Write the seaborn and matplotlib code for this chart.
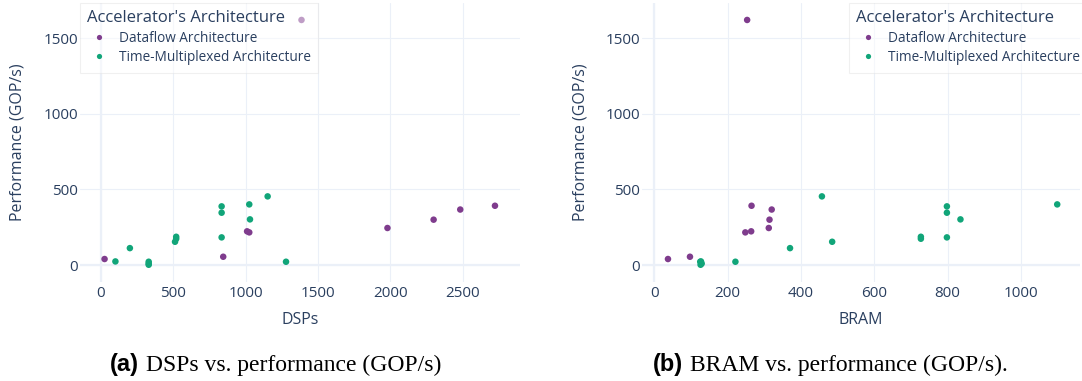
import matplotlib
matplotlib.use('Agg')
import matplotlib.pyplot as plt
from matplotlib.offsetbox import TextArea, HPacker, AnnotationBbox
import pandas as pd
import seaborn as sns

architecture = ['Dataflow Architecture'] * 9 + ['Time-Multiplexed Architecture'] * 15
dsps = [25, 845, 1010, 1025, 1980, 2299, 2483, 2723, 1386,
        100, 200, 330, 330, 330, 520, 520, 512, 834, 834, 834, 1025, 1030, 1152, 1279]
bram = [37, 97, 264, 248, 312, 314, 320, 265, 253,
        127, 370, 125, 129, 126, 727, 727, 485, 798, 798, 798, 1099, 835, 457, 221]
performance = [40, 55, 223, 216, 245, 300, 367, 392, 1620,
               24, 112, 22, 10, 2, 187, 174, 154, 388, 346, 183, 401, 302, 454, 22]

dsp_ticks = [0, 500, 1000, 1500, 2000, 2500]
bram_ticks = [0, 200, 400, 600, 800, 1000]
perf_ticks = [0, 500, 1000, 1500]

df = pd.DataFrame({'DSPs': dsps, 'BRAM': bram, 'Performance': performance,
                   'Architecture': architecture})

sns.set_theme(style='white')
plt.rcParams['font.family'] = ['Open Sans', 'DejaVu Sans']

TEXT = '#2a3f5f'
GRID = '#EBF0F8'
palette = {'Dataflow Architecture': '#7F3C8D', 'Time-Multiplexed Architecture': '#11A579'}

fig = plt.figure(figsize=(10.82, 3.81), dpi=100)
ax1 = fig.add_axes([0.0739, 0.2606, 0.4067, 0.7315])
ax2 = fig.add_axes([0.5933, 0.2606, 0.4048, 0.7315])


def draw_panel(ax, xcol, xlim, xticks, legend_x):
    sns.scatterplot(data=df, x=xcol, y='Performance', hue='Architecture',
                    palette=palette, s=22, linewidth=0, ax=ax, zorder=3)
    ax.set_xlim(xlim)
    ax.set_ylim(-110, 1732)
    ax.set_xticks(xticks)
    ax.set_yticks(perf_ticks)
    ax.grid(True, color=GRID, linewidth=0.8)
    ax.set_axisbelow(True)
    ax.axhline(0, color=GRID, linewidth=1.6, zorder=1)
    ax.axvline(0, color=GRID, linewidth=1.6, zorder=1)
    for spine in ax.spines.values():
        spine.set_visible(False)
    ax.tick_params(colors=TEXT, labelsize=11, length=0)
    ax.tick_params(axis='x', pad=3)
    ax.tick_params(axis='y', pad=1.5)
    ax.set_xlabel(xcol, fontsize=11.5, color=TEXT)
    ax.set_ylabel('Performance (GOP/s)', fontsize=11.5, color=TEXT)
    ax.xaxis.set_label_coords(0.5, -0.137)
    ax.xaxis.label.set_va('center')
    ax.yaxis.set_label_coords(-0.141, 0.5)
    ax.yaxis.label.set_va('center')
    sns.move_legend(ax, 'upper left', bbox_to_anchor=(legend_x, 1),
                    title="Accelerator's Architecture", frameon=True,
                    framealpha=0.5, edgecolor='#E3E3E3', fancybox=False,
                    borderaxespad=0, fontsize=9.8, title_fontsize=12,
                    alignment='left', markerscale=0.8, borderpad=0.55,
                    labelspacing=0.32, handletextpad=0.6, handlelength=1.7)
    leg = ax.get_legend()
    leg.get_frame().set_linewidth(0.8)
    leg.get_title().set_color(TEXT)
    for t in leg.get_texts():
        t.set_color(TEXT)


draw_panel(ax1, 'DSPs', (-145, 2896), dsp_ticks, 0.0)
draw_panel(ax2, 'BRAM', (-34, 1161), bram_ticks, 0.4726)


def caption(xc, tag, rest):
    box = HPacker(children=[
        TextArea(tag, textprops=dict(family='Liberation Sans', weight='bold',
                                     size=17, color='black')),
        TextArea(rest, textprops=dict(family='Liberation Serif', size=17,
                                      color='black'))],
        sep=5, pad=0, align='baseline')
    ab = AnnotationBbox(box, (xc / 1082, 1 - 365 / 381), xycoords='figure fraction',
                        frameon=False, box_alignment=(0.5, 0.5))
    fig.add_artist(ab)


caption(276, '(a)', 'DSPs vs. performance (GOP/s)')
caption(830, '(b)', 'BRAM vs. performance (GOP/s).')

fig.savefig('out.png', dpi=100)
